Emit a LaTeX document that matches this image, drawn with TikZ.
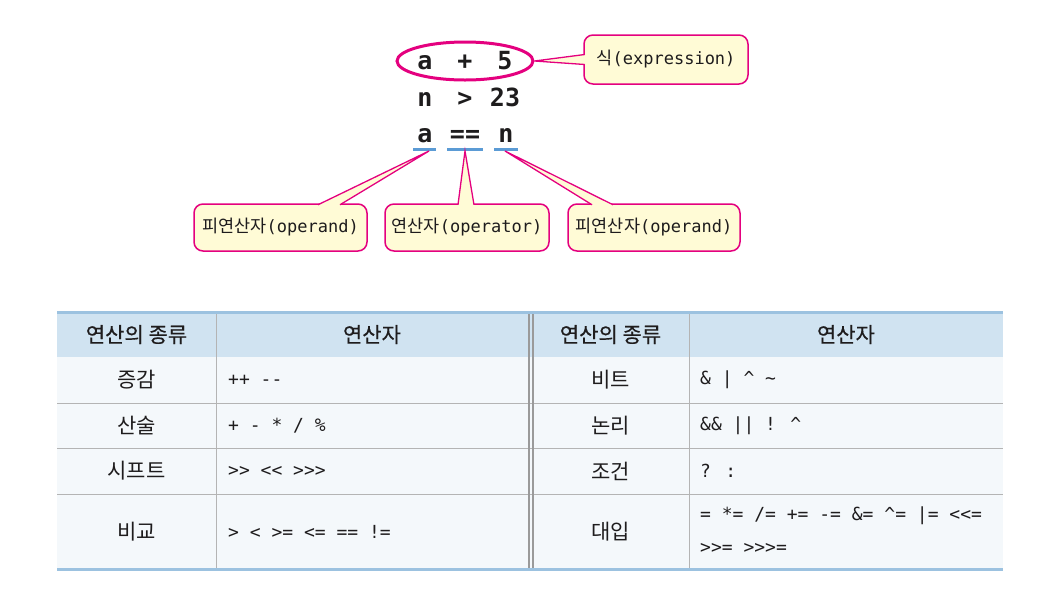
\documentclass[tikz,border=0pt]{standalone}
\usepackage{fontspec}
\setmainfont{Noto Sans CJK KR}
\newfontfamily\kr{Noto Sans CJK KR}
\newfontfamily\krh[FakeBold=0.5]{Noto Sans CJK KR}
\newfontfamily\mono{DejaVu Sans Mono}
\newfontfamily\opf{DejaVu Sans Mono}
\usetikzlibrary{shapes.geometric,calc}
\definecolor{mag}{HTML}{E4007F}
\definecolor{cyel}{HTML}{FFFBD6}
\definecolor{ulblue}{HTML}{5B9BD5}
\definecolor{hdr}{HTML}{D0E3F1}
\definecolor{bodyc}{HTML}{F4F8FB}
\definecolor{edgeb}{HTML}{9CC2E0}
\definecolor{gridc}{HTML}{B4B4B4}
\definecolor{dbl}{HTML}{9A9A9A}
\definecolor{txt}{HTML}{1E1C1D}
\newcommand\calloutptr[3]{%
  \fill[cyel] #1 -- #2 -- #3 -- cycle;
  \draw[mag, line width=1.3, line join=miter] #1 -- #2 -- #3;}
\newcommand\krc[1]{{\kr\fontsize{17.5}{20}\selectfont #1}}
\newcommand\mnc[1]{{\mono\fontsize{17}{20}\selectfont #1}}
\begin{document}
\begin{tikzpicture}[x=1pt,y=-1pt,
  callout/.style={draw=mag, line width=1.5, fill=cyel, rounded corners=9, inner sep=0pt,
     minimum height=47, text=txt},
  code/.style={font=\mono\bfseries\fontsize{25}{28}\selectfont, text=txt, inner sep=0pt, anchor=base},
  uline/.style={ulblue, line width=3},
  hd/.style={font=\krh\fontsize{21}{24}\selectfont, text=txt, inner sep=0pt},
  cat/.style={font=\kr\fontsize{21}{24}\selectfont, text=txt, inner sep=0pt},
  ops/.style={font=\opf\fontsize{18}{21}\selectfont, text=txt, inner sep=0pt, anchor=west},
  gline/.style={gridc, line width=1},
  ]
\useasboundingbox (0,0) rectangle (1039,590);

% ---- code lines ----
\node[code] (r1a) at (425,69) {a};
\node[code] (r1b) at (465,69) {+};
\node[code] (r1c) at (505,69) {5};
\node[code] (r2a) at (425,106) {n};
\node[code] (r2b) at (465,106) {>};
\node[code] (r2c) at (505,106) {23};
\node[code] (r3a) at (425,142) {a};
\node[code] (r3b) at (465,142) {==};
\node[code] (r3c) at (506,142) {n};

\node[draw=mag, line width=3, ellipse, minimum width=136, minimum height=38, inner sep=0pt] (ell) at (465,61) {};

\coordinate (u1a) at (413,149); \coordinate (u1b) at (436,149);
\coordinate (u2a) at (447,149); \coordinate (u2b) at (483,149);
\coordinate (u3a) at (494,149); \coordinate (u3b) at (518,149);
\draw[uline] (u1a) -- (u1b);
\draw[uline] (u2a) -- (u2b);
\draw[uline] (u3a) -- (u3b);

% ---- callouts ----
\node[callout, minimum width=164, minimum height=49] (cx) at (666,59.5) {\krc{식}\mnc{(expression)}};
\node[callout, minimum width=173] (c1) at (280.5,227.5) {\krc{피연산자}\mnc{(operand)}};
\node[callout, minimum width=164] (c2) at (467,227.5) {\krc{연산자}\mnc{(operator)}};
\node[callout, minimum width=172] (c3) at (654,227.5) {\krc{피연산자}\mnc{(operand)}};

\coordinate (t1) at (429,151);
\coordinate (t2) at (465,151);
\coordinate (t3) at (505,151);

\calloutptr{($(cx.west)+(1.5,-5)$)}{(ell.east)}{($(cx.west)+(1.5,5)$)}
\calloutptr{($(c1.north)+(37.5,1.5)$)}{(t1)}{($(c1.north)+(59.5,1.5)$)}
\calloutptr{($(c2.north)+(-9,1.5)$)}{(t2)}{($(c2.north)+(7,1.5)$)}
\calloutptr{($(c3.north)+(-62,1.5)$)}{(t3)}{($(c3.north)+(-41,1.5)$)}

% ---- table ----
\fill[hdr] (57,312) rectangle (1003,357);
\fill[bodyc] (57,357) rectangle (1003,569);
\foreach \yy in {403,448,494} \draw[gline] (57,\yy) -- (1003,\yy);
\draw[gline] (216,312) -- (216,569);
\draw[gline] (689,312) -- (689,569);
\draw[dbl, line width=2] (528.5,312) -- (528.5,569);
\draw[dbl, line width=2] (532.5,312) -- (532.5,569);
\draw[edgeb, line width=3] (57,312) -- (1003,312);
\draw[edgeb, line width=3] (57,569) -- (1003,569);

\node[hd] (h1) at (136.5,334.5) {연산의 종류};
\node[hd] (h2) at (372,334.5) {연산자};
\node[hd] (h3) at (610.5,334.5) {연산의 종류};
\node[hd] (h4) at (846,334.5) {연산자};

\node[cat] (k1) at (136.5,380) {증감};
\node[cat] (k2) at (136.5,425.5) {산술};
\node[cat] (k3) at (136.5,471) {시프트};
\node[cat] (k4) at (136.5,531.5) {비교};
\node[cat] (k5) at (610.5,380) {비트};
\node[cat] (k6) at (610.5,425.5) {논리};
\node[cat] (k7) at (610.5,471) {조건};
\node[cat] (k8) at (610.5,531.5) {대입};

\node[ops] (o1) at (228,380) {++ -{}-};
\node[ops] (o2) at (228,425.5) {+ - * / \%};
\node[ops] (o3) at (228,471) {>{}> <{}< >{}>{}>};
\node[ops] (o4) at (228,531.5) {> < >= <= == !=};
\node[ops] (o5) at (700,380) {\& | \textasciicircum{} \textasciitilde};
\node[ops] (o6) at (700,425.5) {\&\& || ! \textasciicircum};
\node[ops] (o7) at (700,471) {? :};
\node[ops] (o8) at (700,516) {= *= /= += -= \&= \textasciicircum= |= <{}<=};
\node[ops] (o9) at (700,548) {>{}>= >{}>{}>=};
\end{tikzpicture}
\end{document}
